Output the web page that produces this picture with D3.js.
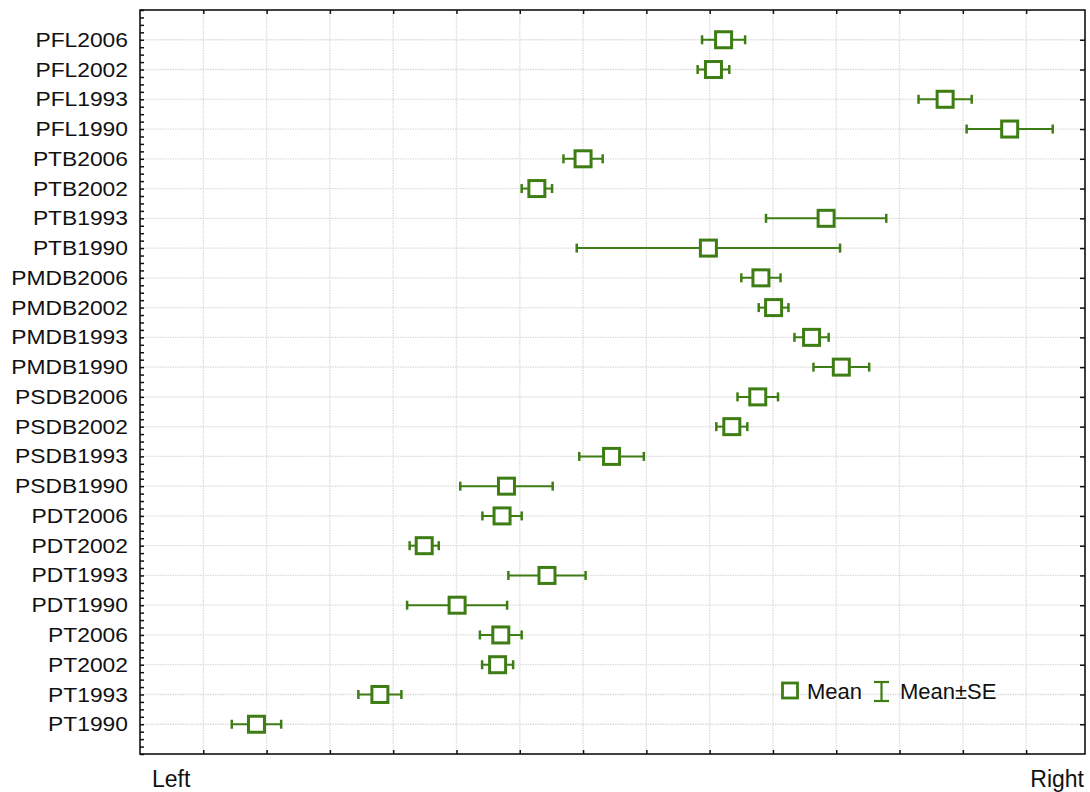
<!DOCTYPE html>
<html>
<head>
<meta charset="utf-8">
<script src="https://cdn.jsdelivr.net/npm/d3@7"></script>
<style>
  body { margin: 0; background: #fff; }
  text { font-family: "Liberation Sans", Arial, sans-serif; fill: #111; }
</style>
</head>
<body>
<script>
// groups, top to bottom
const groups = ["PFL2006", "PFL2002", "PFL1993", "PFL1990",
                "PTB2006", "PTB2002", "PTB1993", "PTB1990",
                "PMDB2006", "PMDB2002", "PMDB1993", "PMDB1990",
                "PSDB2006", "PSDB2002", "PSDB1993", "PSDB1990",
                "PDT2006", "PDT2002", "PDT1993", "PDT1990",
                "PT2006", "PT2002", "PT1993", "PT1990"];

// mean position on the left-right scale
const means = [9.22, 9.06, 12.72, 13.74,
               7.00, 6.27, 10.84, 8.98,
               9.81, 10.01, 10.61, 11.08,
               9.76, 9.35, 7.45, 5.79,
               5.72, 4.49, 6.43, 5.01,
               5.70, 5.65, 3.79, 1.84];

// standard error
const ses = [0.34, 0.25, 0.42, 0.68,
             0.31, 0.24, 0.95, 2.08,
             0.31, 0.235, 0.27, 0.44,
             0.32, 0.245, 0.51, 0.73,
             0.31, 0.23, 0.61, 0.79,
             0.33, 0.245, 0.34, 0.39];

const xTicks = d3.range(1, 15);
const endLabels = ["Left", "Right"];

const W = 1090, H = 792;
const green = "#3e7d14";
const margin = { top: 10, right: 5, bottom: 38, left: 140 };

const svg = d3.select("body").append("svg")
    .attr("width", W)
    .attr("height", H);

const x = d3.scaleLinear()
    .domain([0, 14.93])
    .range([margin.left, W - margin.right]);

const y = d3.scaleLinear()
    .domain([-1, groups.length])
    .range([margin.top, H - margin.bottom]);

const data = groups.map((g, i) => ({ name: g, i: i, mean: means[i], se: ses[i] }));

// grid
const grid = svg.append("g")
    .attr("stroke", "#dcdcdc")
    .attr("stroke-width", 1.3)
    .attr("stroke-dasharray", "1.5,1");

grid.selectAll("line.v")
  .data(xTicks)
  .enter().append("line")
    .attr("class", "v")
    .attr("x1", d => x(d)).attr("x2", d => x(d))
    .attr("y1", y(-1)).attr("y2", y(groups.length));

grid.selectAll("line.h")
  .data(data)
  .enter().append("line")
    .attr("class", "h")
    .attr("x1", x.range()[0]).attr("x2", x.range()[1])
    .attr("y1", d => y(d.i)).attr("y2", d => y(d.i));

// axes (ticks pointing inward)
const minor = d3.range(-1, groups.length + 0.01, 0.25);

svg.append("g")
    .attr("transform", `translate(${x.range()[0]},0)`)
    .call(d3.axisRight(y).tickValues(minor).tickSize(4).tickFormat(""))
    .call(g => g.select(".domain").remove());

svg.append("g")
    .attr("transform", `translate(${x.range()[1]},0)`)
    .call(d3.axisLeft(y).tickValues(d3.range(groups.length)).tickSize(5).tickFormat(""))
    .call(g => g.select(".domain").remove());

svg.append("g")
    .attr("transform", `translate(0,${y.range()[0]})`)
    .call(d3.axisBottom(x).tickValues(xTicks).tickSize(4).tickFormat(""))
    .call(g => g.select(".domain").remove());

svg.append("g")
    .attr("transform", `translate(0,${y.range()[1]})`)
    .call(d3.axisTop(x).tickValues(xTicks).tickSize(4).tickFormat(""))
    .call(g => g.select(".domain").remove());

svg.selectAll(".tick line").attr("stroke", "#111").attr("stroke-width", 1.5);

// frame
svg.append("rect")
    .attr("x", x.range()[0])
    .attr("y", y.range()[0])
    .attr("width", x.range()[1] - x.range()[0])
    .attr("height", y.range()[1] - y.range()[0])
    .attr("fill", "none")
    .attr("stroke", "#111")
    .attr("stroke-width", 1.6);

// row labels
svg.append("g")
  .selectAll("text")
  .data(data)
  .enter().append("text")
    .attr("transform", d => `translate(128,${y(d.i)}) scale(1.17,1)`)
    .attr("dy", "0.36em")
    .attr("text-anchor", "end")
    .attr("font-size", 19.5)
    .text(d => d.name);

// end labels
svg.append("text")
    .attr("x", 152).attr("y", 787)
    .attr("font-size", 23)
    .text(endLabels[0]);

svg.append("text")
    .attr("x", 1084).attr("y", 787)
    .attr("text-anchor", "end")
    .attr("font-size", 23)
    .text(endLabels[1]);

// error bars
const bars = svg.append("g")
  .selectAll("g")
  .data(data)
  .enter().append("g")
    .attr("stroke", green);

bars.append("line")
    .attr("x1", d => x(d.mean - d.se))
    .attr("x2", d => x(d.mean + d.se))
    .attr("y1", d => y(d.i)).attr("y2", d => y(d.i))
    .attr("stroke-width", 2);

bars.append("line")
    .attr("x1", d => x(d.mean - d.se)).attr("x2", d => x(d.mean - d.se))
    .attr("y1", d => y(d.i) - 4.5).attr("y2", d => y(d.i) + 4.5)
    .attr("stroke-width", 2.5);

bars.append("line")
    .attr("x1", d => x(d.mean + d.se)).attr("x2", d => x(d.mean + d.se))
    .attr("y1", d => y(d.i) - 4.5).attr("y2", d => y(d.i) + 4.5)
    .attr("stroke-width", 2.5);

bars.append("rect")
    .attr("x", d => x(d.mean) - 8)
    .attr("y", d => y(d.i) - 8)
    .attr("width", 16).attr("height", 16)
    .attr("fill", "#fff")
    .attr("stroke-width", 3);

// legend
const legend = svg.append("g").attr("transform", "translate(781,691)");

legend.append("rect")
    .attr("x", 1.5).attr("y", -8)
    .attr("width", 15).attr("height", 15)
    .attr("fill", "#fff")
    .attr("stroke", green)
    .attr("stroke-width", 2.8);

legend.append("text")
    .attr("x", 26).attr("y", 0).attr("dy", "0.35em")
    .attr("font-size", 22)
    .text("Mean");

const ib = legend.append("g").attr("stroke", green).attr("stroke-width", 2.2);
ib.append("line").attr("x1", 100.5).attr("x2", 100.5).attr("y1", -9).attr("y2", 10);
ib.append("line").attr("x1", 93).attr("x2", 108).attr("y1", -9).attr("y2", -9);
ib.append("line").attr("x1", 93).attr("x2", 108).attr("y1", 10).attr("y2", 10);

legend.append("text")
    .attr("x", 119).attr("y", 0).attr("dy", "0.35em")
    .attr("font-size", 22)
    .text("Mean±SE");
</script>
</body>
</html>
